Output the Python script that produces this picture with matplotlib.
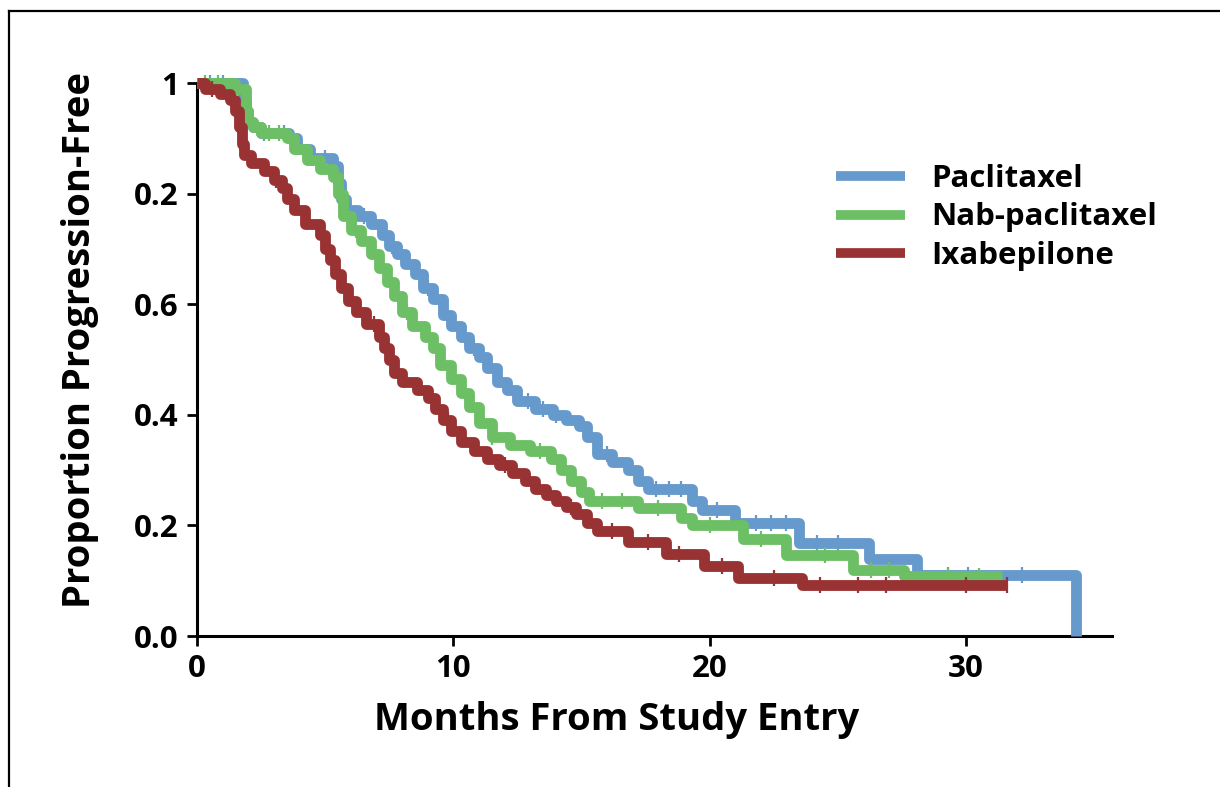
import numpy as np
import matplotlib
matplotlib.use("Agg")
import matplotlib.pyplot as plt
from matplotlib.lines import Line2D

plt.rcParams['font.family'] = ['Open Sans', 'DejaVu Sans']
plt.rcParams['font.weight'] = 'bold'

# ---------------- data ----------------
series_names = ["Paclitaxel", "Nab-paclitaxel", "Ixabepilone"]
series_colors = ["#6699cc", "#6cbf64", "#993333"]

pac_t = [0, 1.8, 1.9, 2.0, 2.2, 2.5, 3.6, 3.9, 4.4, 5.3, 5.5, 5.6, 5.8, 6.3, 6.8, 7.2,
         7.5, 7.8, 8.1, 8.5, 8.8, 9.2, 9.6, 9.9, 10.3, 10.6, 11.0, 11.3, 11.7, 12.1,
         12.5, 13.2, 13.9, 14.4, 14.9, 15.2, 15.6, 16.2, 16.8, 17.2, 17.6, 19.3, 19.7,
         21.0, 23.5, 26.2, 28.1, 34.3]
pac_s = [1.0, 0.97, 0.95, 0.93, 0.92, 0.91, 0.90, 0.88, 0.865, 0.85, 0.82, 0.79, 0.77,
         0.76, 0.745, 0.725, 0.705, 0.69, 0.672, 0.655, 0.63, 0.61, 0.58, 0.56, 0.54,
         0.52, 0.505, 0.485, 0.46, 0.445, 0.425, 0.41, 0.40, 0.39, 0.38, 0.36, 0.33,
         0.315, 0.30, 0.28, 0.265, 0.245, 0.228, 0.205, 0.168, 0.14, 0.11, 0.0]
pac_cens = [0.5, 1.0, 2.6, 3.4, 4.5, 5.0, 6.5, 7.6, 9.0, 10.8, 12.9, 13.5, 14.0, 16.0,
            17.9, 18.4, 18.9, 20.3, 21.8, 22.4, 23.0, 24.2, 25.0, 29.3, 30.1, 32.2]

nab_t = [0, 1.5, 1.9, 2.0, 2.2, 2.5, 3.5, 3.8, 4.3, 4.8, 5.3, 5.5, 5.7, 6.0, 6.4, 6.8,
         7.1, 7.4, 7.7, 8.0, 8.4, 8.9, 9.2, 9.5, 9.9, 10.3, 10.6, 11.0, 11.5, 12.2, 13.0,
         13.8, 14.2, 14.6, 15.0, 15.3, 17.2, 18.9, 19.3, 21.3, 23.0, 25.6, 27.6, 31.4]
nab_s = [1.0, 0.99, 0.95, 0.93, 0.92, 0.91, 0.90, 0.88, 0.86, 0.845, 0.83, 0.80, 0.76,
         0.735, 0.715, 0.69, 0.665, 0.64, 0.615, 0.585, 0.56, 0.54, 0.52, 0.49, 0.465,
         0.44, 0.415, 0.385, 0.36, 0.345, 0.335, 0.32, 0.30, 0.28, 0.26, 0.245, 0.232,
         0.213, 0.20, 0.175, 0.146, 0.12, 0.108, 0.108]
nab_cens = [0.3, 0.8, 2.8, 3.2, 6.2, 8.2, 11.5, 13.4, 15.8, 16.6, 18.0, 20.0, 22.0,
            24.5, 26.3, 27.0, 29.3, 30.5]

ixa_t = [0, 0.3, 0.9, 1.3, 1.5, 1.65, 1.75, 1.85, 2.1, 2.6, 3.0, 3.3, 3.5, 3.8, 4.2,
         4.8, 5.0, 5.2, 5.4, 5.6, 5.9, 6.2, 6.6, 7.1, 7.3, 7.5, 7.7, 8.0, 8.6, 9.0, 9.3,
         9.6, 9.9, 10.3, 10.8, 11.3, 11.8, 12.3, 12.8, 13.2, 13.6, 14.0, 14.4, 14.8,
         15.2, 15.6, 16.8, 18.3, 19.8, 21.1, 23.6, 31.6]
ixa_s = [1.0, 0.99, 0.98, 0.97, 0.95, 0.92, 0.89, 0.87, 0.855, 0.84, 0.825, 0.81, 0.79,
         0.77, 0.745, 0.725, 0.70, 0.68, 0.655, 0.63, 0.605, 0.585, 0.565, 0.54, 0.52,
         0.50, 0.475, 0.46, 0.445, 0.43, 0.41, 0.39, 0.37, 0.35, 0.335, 0.32, 0.31,
         0.295, 0.28, 0.265, 0.255, 0.245, 0.233, 0.22, 0.205, 0.19, 0.17, 0.148,
         0.126, 0.105, 0.092, 0.092]
ixa_cens = [0.6, 3.1, 6.9, 9.8, 12.0, 14.6, 16.2, 17.6, 18.8, 20.5, 22.5, 24.3, 25.8,
            26.9, 30.0, 31.6]

x_ticks = [0, 10, 20, 30]
y_ticks = [0.0, 0.2, 0.4, 0.6, 0.8, 1.0]
y_tick_labels = ["0.0", "0.2", "0.4", "0.6", "0.2", "1"]

# ---------------- figure ----------------
W, H = 1220, 787
fig = plt.figure(figsize=(W / 100, H / 100), dpi=100)
ax = fig.add_axes([197 / W, 1 - 636 / H, (1112 - 197) / W, (636 - 83) / H])

curves = [(pac_t, pac_s, pac_cens), (nab_t, nab_s, nab_cens), (ixa_t, ixa_s, ixa_cens)]
for (t, s, c), name, col in zip(curves, series_names, series_colors):
    t = np.asarray(t); s = np.asarray(s)
    ax.step(t, s, where='post', color=col, lw=7.8, label=name, clip_on=False,
            solid_joinstyle='round', solid_capstyle='butt', zorder=3)
    c = np.asarray(c)
    idx = np.searchsorted(t, c, side='right') - 1
    ax.plot(c, s[idx], linestyle='none', marker='|', markersize=12, mew=1.6,
            color=col, clip_on=False, zorder=3)

ax.set_xlim(0, (1112 - 197) / 25.63)
ax.set_ylim(0, 1.0)
ax.set_xticks(x_ticks)
ax.set_xticklabels([str(v) for v in x_ticks])
ax.set_yticks(y_ticks)
ax.set_yticklabels(y_tick_labels)

for side in ['top', 'right']:
    ax.spines[side].set_visible(False)
for side in ['left', 'bottom']:
    ax.spines[side].set_linewidth(2.2)
ax.tick_params(axis='both', direction='out', length=7, width=2, labelsize=22.5,
               pad=6, colors='black')
for lab in ax.get_xticklabels() + ax.get_yticklabels():
    lab.set_fontweight('bold')

ax.set_xlabel("Months From Study Entry", fontsize=27.5, fontweight='bold', labelpad=12)
ax.xaxis.set_label_coords((617 - 197) / 915, -(720 - 636) / 553)
ax.set_ylabel("Proportion Progression-Free", fontsize=27.5, fontweight='bold')
ax.yaxis.set_label_coords(-(197 - 80) / 915, (636 - 340) / 553)
ax.xaxis.label.set_va('center')
ax.yaxis.label.set_va('center')

leg = ax.legend(loc='upper left', bbox_to_anchor=((836 - 197) / 915, (636 - 164) / 553),
                frameon=False, fontsize=22.5, handlelength=2.2, handletextpad=0.85,
                labelspacing=0.27, borderaxespad=0, borderpad=0)
for lh in leg.get_lines():
    lh.set_linewidth(7.0)
for txt in leg.get_texts():
    txt.set_fontweight('bold')

# outer frame
fig.add_artist(Line2D([9 / W, 1.0], [1 - 11 / H, 1 - 11 / H], color='black', lw=1.6,
                      transform=fig.transFigure))
fig.add_artist(Line2D([9 / W, 9 / W], [0, 1 - 11 / H], color='black', lw=1.6,
                      transform=fig.transFigure))

fig.savefig("out.png", dpi=100)
